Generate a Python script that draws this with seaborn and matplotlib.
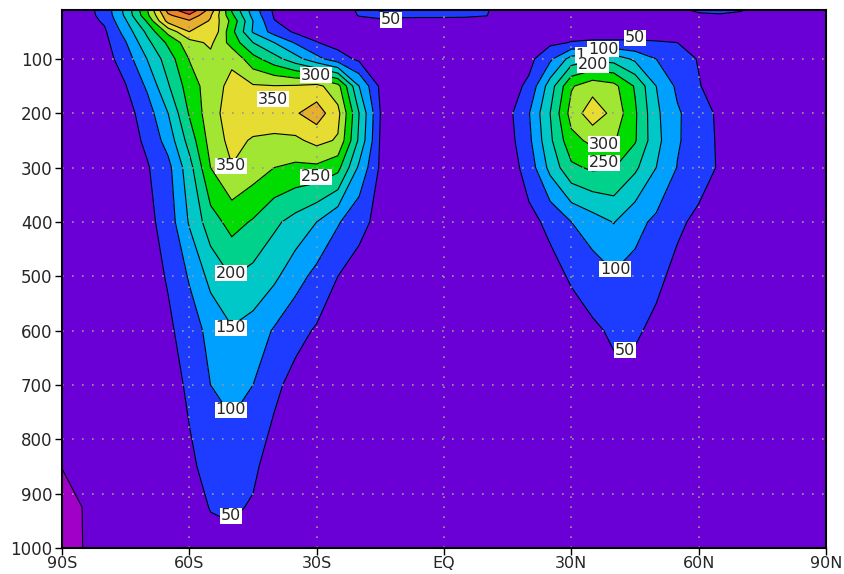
import numpy as np
import matplotlib
matplotlib.use("Agg")
import matplotlib.pyplot as plt
import seaborn as sns

# latitude grid (deg, south negative) and pressure levels (hPa)
lats = list(range(-90, 91, 5))
plevs = [1000, 925, 850, 700, 600, 500, 400, 300, 250, 200, 150, 100, 70, 50, 30, 20, 10]

# zonal mean values, one list per pressure level (90S -> 90N)
eke_1000 = [-20, 0.5, 4, 6, 8, 12, 22, 35, 40, 32, 18, 13, 11, 10, 9, 8, 8, 8, 8,
            8, 8, 9, 10, 11, 12, 14, 16, 15, 13, 11, 10, 9, 8, 7, 6, 5, 4]
eke_925 = [-18, 1, 5, 7, 10, 16, 30, 52, 56, 46, 22, 16, 13, 12, 11, 10, 9, 9, 9,
           9, 9, 10, 11, 12, 14, 17, 20, 19, 16, 13, 11, 10, 9, 8, 7, 6, 5]
eke_850 = [1, 3, 6, 8, 12, 20, 40, 68, 72, 58, 30, 20, 16, 14, 12, 11, 10, 10, 10,
           10, 10, 11, 12, 14, 16, 20, 24, 22, 18, 15, 13, 12, 11, 10, 9, 8, 6]
eke_700 = [5, 6, 8, 10, 15, 25, 60, 100, 118, 100, 60, 35, 25, 20, 16, 14, 13, 12, 12,
           12, 12, 13, 15, 18, 22, 30, 38, 35, 28, 22, 18, 16, 15, 13, 12, 10, 8]
eke_600 = [5, 8, 10, 12, 20, 40, 75, 115, 145, 130, 95, 65, 45, 30, 20, 17, 15, 14, 14,
           14, 14, 15, 18, 22, 30, 42, 57, 56, 40, 28, 22, 19, 17, 15, 13, 11, 9]
eke_500 = [8, 10, 12, 15, 25, 55, 105, 165, 202, 185, 160, 120, 85, 50, 30, 20, 17, 15, 15,
           15, 16, 18, 22, 35, 55, 75, 95, 85, 60, 38, 28, 23, 20, 17, 14, 12, 10]
eke_400 = [10, 12, 15, 20, 35, 72, 155, 228, 268, 245, 210, 182, 150, 105, 65, 35, 22, 18, 17,
           17, 19, 25, 38, 60, 100, 127, 152, 115, 90, 58, 40, 30, 25, 20, 16, 13, 11]
eke_300 = [8, 12, 15, 20, 45, 85, 180, 300, 348, 325, 300, 290, 290, 265, 140, 42, 24, 19, 18,
           18, 20, 25, 70, 165, 240, 258, 252, 210, 150, 98, 70, 45, 30, 23, 18, 14, 12]
eke_250 = [10, 13, 17, 25, 60, 120, 220, 320, 365, 345, 338, 340, 365, 345, 190, 45, 25, 20, 19,
           19, 22, 30, 88, 190, 285, 312, 305, 255, 165, 105, 75, 42, 30, 24, 19, 15, 13]
eke_200 = [10, 15, 20, 30, 75, 150, 255, 330, 375, 380, 385, 395, 425, 365, 200, 50, 28, 22, 20,
           20, 25, 35, 97, 200, 320, 380, 335, 258, 160, 106, 73, 40, 30, 24, 19, 15, 13]
eke_150 = [12, 18, 22, 48, 107, 195, 275, 325, 365, 355, 352, 355, 365, 317, 150, 40, 25, 22, 20,
           20, 22, 28, 60, 175, 295, 330, 315, 245, 150, 90, 52, 35, 27, 22, 18, 15, 13]
eke_100 = [15, 22, 30, 74, 150, 225, 302, 335, 340, 268, 220, 170, 115, 72, 40, 27, 24, 23, 22,
           22, 22, 23, 35, 90, 170, 190, 180, 140, 100, 65, 48, 35, 28, 23, 19, 16, 14]
eke_70 = [17, 24, 35, 97, 185, 260, 330, 360, 280, 200, 150, 95, 52, 32, 28, 26, 25, 25, 25,
          25, 24, 24, 26, 40, 52, 55, 55, 55, 53, 50, 42, 34, 28, 24, 20, 17, 14]
eke_50 = [18, 26, 42, 120, 210, 315, 400, 400, 265, 145, 80, 42, 30, 28, 32, 34, 34, 34, 33,
          33, 30, 26, 25, 28, 33, 35, 35, 35, 34, 32, 30, 28, 26, 24, 21, 18, 15]
eke_30 = [18, 28, 57, 145, 255, 420, 445, 395, 285, 150, 52, 25, 20, 24, 38, 42, 42, 42, 42,
          42, 40, 26, 23, 22, 22, 23, 24, 25, 27, 30, 33, 34, 32, 27, 22, 18, 15]
eke_20 = [20, 30, 64, 160, 285, 440, 490, 405, 262, 135, 45, 25, 20, 28, 52, 62, 56, 55, 55,
          54, 51, 30, 24, 23, 23, 24, 25, 27, 30, 36, 44, 46, 42, 32, 24, 19, 15]
eke_10 = [20, 30, 68, 165, 295, 470, 545, 430, 245, 125, 40, 25, 20, 30, 55, 110, 75, 65, 60,
          58, 53, 30, 25, 24, 24, 25, 26, 28, 32, 42, 56, 60, 53, 35, 25, 20, 16]

field = np.array([eke_1000, eke_925, eke_850, eke_700, eke_600, eke_500, eke_400, eke_300,
                  eke_250, eke_200, eke_150, eke_100, eke_70, eke_50, eke_30, eke_20, eke_10])

contour_levels = list(range(0, 551, 50))
# GrADS style rainbow shading
band_colors = ['#a000c8', '#6a00d6', '#1e3cff', '#00a0ff', '#00c8c8', '#00d28c', '#00dc00',
               '#a0e632', '#e6dc32', '#e6af2d', '#f08228', '#fa3c3c', '#f00082']

# contour labels as drawn in the original (value, lat, hPa)
label_spots = [(50, -12.5, 28), (300, -30.2, 130), (350, -40.3, 174), (350, -50.2, 297),
               (250, -30.2, 317), (200, -50.2, 494), (150, -50.2, 595), (100, -50.2, 746),
               (50, -50.2, 941), (50, 45, 61), (150, 34.6, 93), (100, 37.5, 82),
               (200, 35.1, 111), (300, 37.7, 257), (250, 37.7, 291), (100, 40.3, 487),
               (50, 42.6, 636)]

sns.set_style("ticks")
plt.rcParams['font.family'] = ['DejaVu Sans']

fig = plt.figure(figsize=(8.44, 5.74), dpi=100)
ax = fig.add_axes([62 / 844, 26 / 574, 764 / 844, 538 / 574])
ax.set_xlim(-90, 90)
ax.set_ylim(1000, 10)

palette = sns.color_palette(band_colors)
ax.contourf(lats, plevs, field, levels=[-100] + contour_levels + [1000], colors=palette)
cs = ax.contour(lats, plevs, field, levels=contour_levels, colors='black', linewidths=0.8)

for lev, la, p in label_spots:
    ax.text(la, p, str(lev), fontsize=11.5, ha='center', va='center', zorder=5,
            bbox=dict(facecolor='white', edgecolor='none', pad=0.5))

ax.set_xticks([-90, -60, -30, 0, 30, 60, 90])
ax.set_xticklabels(['90S', '60S', '30S', 'EQ', '30N', '60N', '90N'])
ax.set_yticks(list(range(100, 1001, 100)))
ax.set_yticklabels([str(v) for v in range(100, 1001, 100)])
ax.tick_params(direction='out', length=5, width=1, labelsize=12, pad=2, color='black')
ax.tick_params(axis='x', labelsize=11.5, pad=1)

ax.set_axisbelow(False)
ax.grid(True, color='#999999', linestyle=(0, (1, 5)), linewidth=1.2)
for s in ax.spines.values():
    s.set_linewidth(1.5)
    s.set_color('black')
    s.set_zorder(10)

fig.savefig("out.png", dpi=100)
